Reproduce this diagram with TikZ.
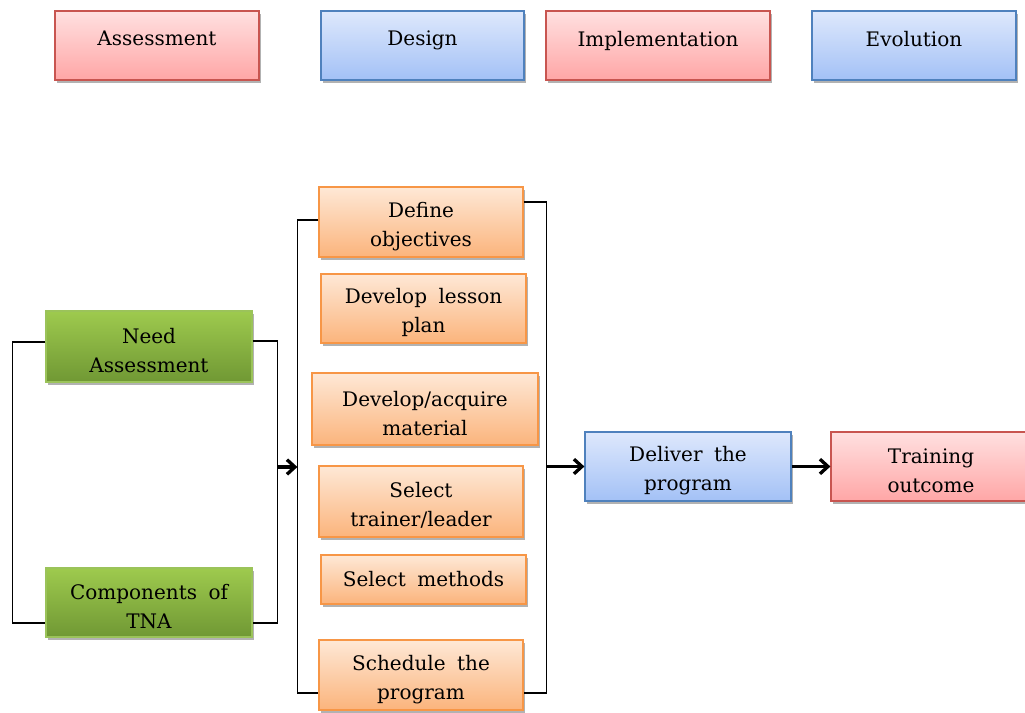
\documentclass[tikz,border=0pt]{standalone}
\usepackage{fontspec}
\setmainfont[WordSpace=1.8]{DejaVu Serif}
\usetikzlibrary{arrows.meta,shadows,calc}
\definecolor{redtop}{RGB}{255,224,224}
\definecolor{redbot}{RGB}{255,166,166}
\definecolor{redline}{RGB}{200,85,80}
\definecolor{bluetop}{RGB}{222,232,252}
\definecolor{bluebot}{RGB}{163,193,246}
\definecolor{blueline}{RGB}{79,129,189}
\definecolor{greentop}{RGB}{158,202,78}
\definecolor{greenbot}{RGB}{112,152,52}
\definecolor{greenline}{RGB}{155,195,90}
\definecolor{orangetop}{RGB}{254,232,214}
\definecolor{orangebot}{RGB}{251,180,124}
\definecolor{orangeline}{RGB}{247,150,70}
\tikzset{
  box/.style={rectangle, line width=0.9pt, align=center, inner sep=2pt,
    font=\fontsize{15pt}{21.75pt}\selectfont,
    drop shadow={shadow xshift=1.2pt, shadow yshift=-2pt, opacity=0.3, fill=black}},
  twoline/.style={text height=39.5pt},
  redbox/.style={box, draw=redline, top color=redtop, bottom color=redbot},
  bluebox/.style={box, draw=blueline, top color=bluetop, bottom color=bluebot},
  greenbox/.style={box, draw=greenline, top color=greentop, bottom color=greenbot},
  orangebox/.style={box, draw=orangeline, top color=orangetop, bottom color=orangebot},
  headbox/.style={minimum width=153pt, minimum height=51.75pt, text depth=10.5pt},
  bracket/.style={line width=1pt, black},
  bigarrow/.style={line width=2.5pt, black, -{Straight Barb[length=6pt,width=11pt]}}
}
\begin{document}
\begin{tikzpicture}[x=0.75pt,y=-0.75pt]
\useasboundingbox (0,0) rectangle (1025,713);
\clip (0,0) rectangle (1025,713);

% top row
\node[redbox, headbox] (assess) at (157,45.5) {Assessment};
\node[bluebox, headbox, minimum width=152.25pt] (design) at (422.5,45.5) {Design};
\node[redbox, headbox, minimum width=168pt] (impl) at (658,45.5) {Implementation};
\node[bluebox, headbox] (evol) at (914,45.5) {Evolution};

% green column
\node[greenbox, twoline, minimum width=154.5pt, minimum height=53.25pt] (need) at (149,346.5) {Need\\Assessment};
\node[greenbox, twoline, minimum width=154.5pt, minimum height=51.75pt] (tna) at (149,602.5) {Components of\\TNA};

% orange column
\node[orangebox, twoline, minimum width=153pt, minimum height=52.5pt] (define) at (421,222) {Define\\objectives};
\node[orangebox, twoline, minimum width=153.75pt, minimum height=51.75pt] (lesson) at (423.5,308.5) {Develop lesson\\plan};
\node[orangebox, twoline, minimum width=169.5pt, minimum height=54pt] (material) at (425,409) {Develop/acquire\\material};
\node[orangebox, twoline, minimum width=153pt, minimum height=53.25pt] (trainer) at (421,501.5) {Select\\trainer/leader};
\node[orangebox, minimum width=153.75pt, minimum height=36.75pt] (methods) at (423.5,579.5) {Select methods};
\node[orangebox, twoline, minimum width=153pt, minimum height=52.5pt] (schedule) at (421,675) {Schedule the\\program};

% right boxes
\node[bluebox, twoline, minimum width=154.5pt, minimum height=51.75pt] (deliver) at (688,466.5) {Deliver the\\program};
\node[redbox, twoline, minimum width=150pt, minimum height=51.75pt] (outcome) at (931,466.5) {Training\\outcome};

% brackets around green boxes
\draw[bracket] ($(need.west)+(0,-4.5)$) -- ++(-33,0) |- ($(tna.west)+(0,20.5)$);
\draw[bracket] ($(need.east)+(0,-5.5)$) -- ++(25,0) coordinate (gr) |- ($(tna.east)+(0,20.5)$);
\coordinate (grmid) at ($(gr)+(0,126)$);

% brackets around orange boxes
\draw[bracket] ($(define.west)+(0,-2)$) -- ++(-21,0) coordinate (ol) |- ($(schedule.west)+(0,18)$);
\draw[bracket] ($(define.east)+(0,-20)$) -- ++(23,0) coordinate (orr) |- ($(schedule.east)+(0,18)$);

% arrows
\draw[bigarrow] (grmid) -- (grmid -| ol);
\draw[bigarrow] (orr |- deliver.west) -- (deliver.west);
\draw[bigarrow] (deliver.east) -- (outcome.west);
\end{tikzpicture}
\end{document}
